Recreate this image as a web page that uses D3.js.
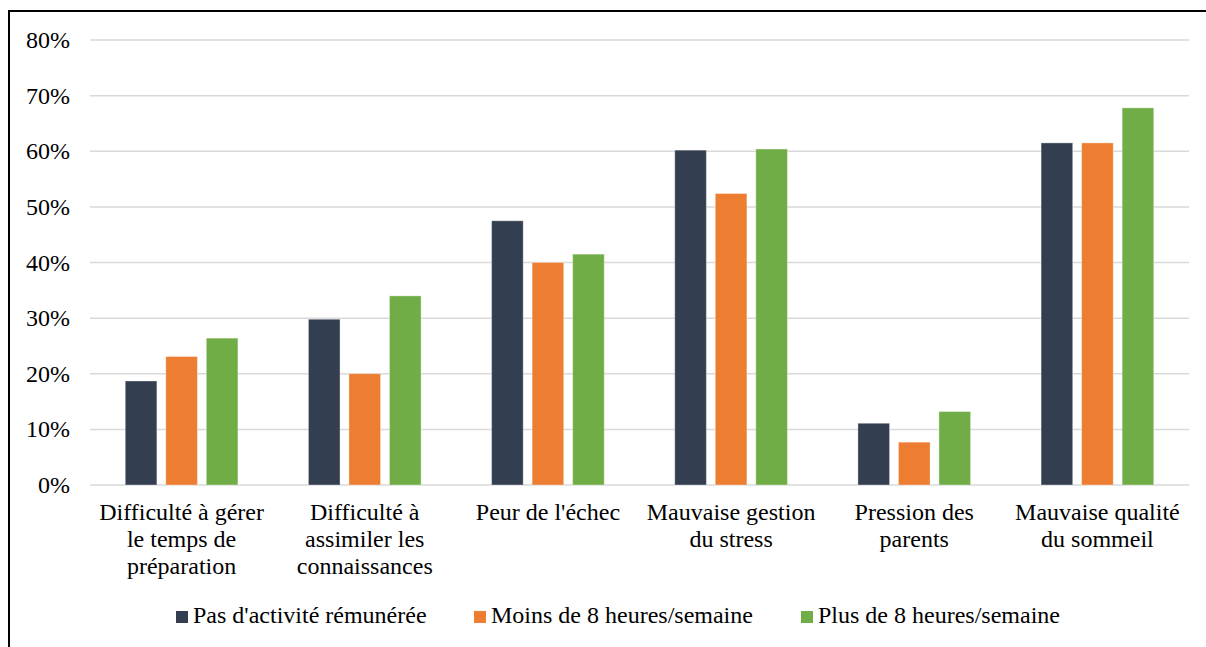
<!DOCTYPE html>
<html>
<head>
<meta charset="utf-8">
<script src="https://cdn.jsdelivr.net/npm/d3@7"></script>
</head>
<body style="margin:0">
<script>
var categories = [
    ["Difficulté à gérer", "le temps de", "préparation"],
    ["Difficulté à", "assimiler les", "connaissances"],
    ["Peur de l'échec"],
    ["Mauvaise gestion", "du stress"],
    ["Pression des", "parents"],
    ["Mauvaise qualité", "du sommeil"]
]
var seriesNames = ["Pas d'activité rémunérée", "Moins de 8 heures/semaine", "Plus de 8 heures/semaine"]
var colors = ["#333F50", "#ED7D31", "#70AD47"]

var noActivity = [18.7, 29.8, 47.5, 60.2, 11.1, 61.5]
var lessThan8 = [23.1, 20.0, 40.0, 52.4, 7.7, 61.5]
var moreThan8 = [26.4, 34.0, 41.5, 60.4, 13.2, 67.8]

var yTicks = [0, 10, 20, 30, 40, 50, 60, 70, 80]

var width = 1206
var height = 647
var FONT = "'Liberation Serif'"
var FSIZE = "24px"
var legendX = [176, 474, 801]

var svg = d3.select("body")
    .append("svg")
    .attr("width", width)
    .attr("height", height)

// outer frame (only top and left visible)
svg.append("rect")
    .attr("x", 9)
    .attr("y", 11)
    .attr("width", width + 20)
    .attr("height", height + 20)
    .style("fill", "none")
    .style("stroke", "#000")
    .style("stroke-width", 2)

var y = d3.scaleLinear()
    .domain([0, 80])
    .range([485, 40])

var keys = categories.map((c, i) => i)

var x0 = d3.scaleBand()
    .domain(keys)
    .range([90, 1189])
    .padding(0)

var x1 = d3.scaleBand()
    .domain([0, 1, 2])
    .range([x0.bandwidth() * 0.1925, x0.bandwidth() * 0.8075])
    .paddingInner(0.22)
    .paddingOuter(0)

// grid lines
svg.append("g")
    .selectAll("line")
    .data(yTicks)
    .enter()
    .append("line")
    .attr("x1", 90)
    .attr("x2", 1189)
    .attr("y1", d => y(d))
    .attr("y2", d => y(d))
    .style("stroke", "#D9D9D9")
    .style("stroke-width", 1.5)

svg.append("g")
    .selectAll("text")
    .data(yTicks)
    .enter()
    .append("text")
    .attr("x", 70)
    .attr("y", d => y(d) + 8)
    .attr("text-anchor", "end")
    .style("font-family", FONT)
    .style("font-size", FSIZE)
    .text(d => d + "%")

var data = keys.map(i => [noActivity[i], lessThan8[i], moreThan8[i]])

var groups = svg.append("g")
    .selectAll("g")
    .data(data)
    .enter()
    .append("g")
    .attr("transform", (d, i) => `translate(${x0(i)},0)`)

groups.selectAll("rect")
    .data(d => d)
    .enter()
    .append("rect")
    .attr("x", (d, j) => x1(j))
    .attr("y", d => y(d))
    .attr("width", x1.bandwidth())
    .attr("height", d => y(0) - y(d))
    .style("fill", (d, j) => colors[j])
    .style("stroke", "#fff")
    .style("stroke-opacity", 0.35)
    .style("stroke-width", 1)

// category labels
var labels = svg.append("g")
    .selectAll("text")
    .data(categories)
    .enter()
    .append("text")
    .attr("x", (d, i) => x0(i) + x0.bandwidth() / 2)
    .attr("y", 520)
    .attr("text-anchor", "middle")
    .style("font-family", FONT)
    .style("font-size", FSIZE)

labels.selectAll("tspan")
    .data(d => d)
    .enter()
    .append("tspan")
    .attr("x", function() { return d3.select(this.parentNode).attr("x") })
    .attr("y", (d, k) => 520 + k * 27)
    .text(d => d)

// legend
var legend = svg.append("g")
    .selectAll("g")
    .data(seriesNames)
    .enter()
    .append("g")
    .attr("transform", (d, j) => `translate(${legendX[j]},0)`)

legend.append("rect")
    .attr("y", 611)
    .attr("width", 12)
    .attr("height", 12)
    .style("fill", (d, j) => colors[j])

legend.append("text")
    .attr("x", 17)
    .attr("y", 623)
    .style("font-family", FONT)
    .style("font-size", FSIZE)
    .text(d => d)
</script>
</body>
</html>
